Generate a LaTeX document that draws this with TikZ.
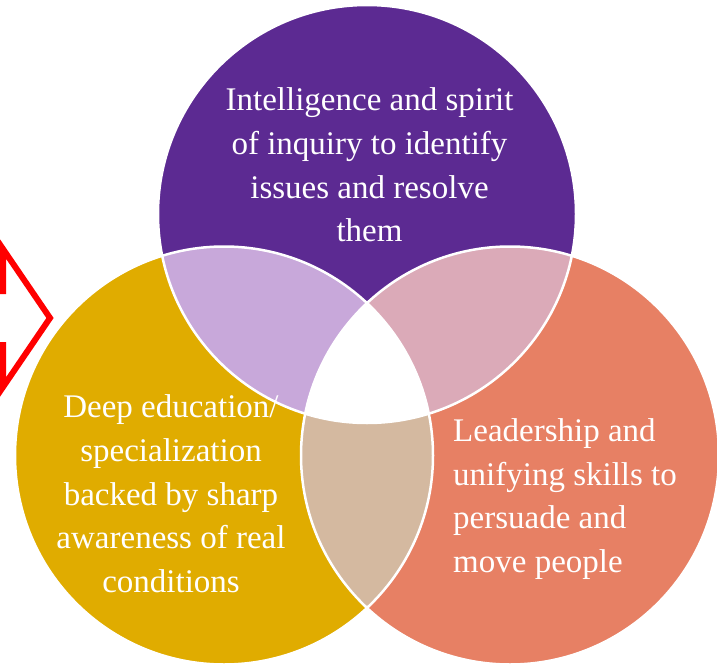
\documentclass[tikz,border=0pt]{standalone}
\usepackage{fontspec}
\setmainfont{Liberation Serif}
\usepackage{xcolor}
\definecolor{venn-purple}{HTML}{5C2A92}
\definecolor{venn-gold}{HTML}{E0AC00}
\definecolor{venn-coral}{HTML}{E78064}
\definecolor{venn-lilac}{HTML}{C8A8DA}
\definecolor{venn-rose}{HTML}{DBAAB8}
\definecolor{venn-tan}{HTML}{D4B9A0}
\tikzset{
    venn-edge/.style = {draw=white, line width=2.5pt},
    venn-label/.style = {text=white, inner sep=0pt, font=\fontsize{33}{43.7}\selectfont},
    hint-arrow/.style = {draw=red, line width=6pt, miter limit=10},
}

\begin{document}
\begin{tikzpicture}[x=1pt, y=-1pt]
\useasboundingbox (0,0) rectangle (717,666);
\clip (0,0) rectangle (717,666);
\coordinate (inquiry-c) at (367,214);
\coordinate (education-c) at (224,455.5);
\coordinate (leadership-c) at (510,455.5);
% the three circles
\fill[venn-purple] (inquiry-c) circle[radius=209];
\fill[venn-gold] (education-c) circle[radius=209];
\fill[venn-coral] (leadership-c) circle[radius=209];
% overlaps
\begin{scope}
    \clip (inquiry-c) circle[radius=209];
    \fill[venn-lilac] (education-c) circle[radius=209];
    \fill[venn-rose] (leadership-c) circle[radius=209];
\end{scope}
\begin{scope}
    \clip (education-c) circle[radius=209];
    \fill[venn-tan] (leadership-c) circle[radius=209];
    \clip (leadership-c) circle[radius=209];
    \fill[white] (inquiry-c) circle[radius=209];
\end{scope}
\foreach \c in {inquiry-c, education-c, leadership-c}
    \draw[venn-edge] (\c) circle[radius=209];
% labels
\node[venn-label, align=center] (inquiry) at (369.5,165) {Intelligence and spirit\\of inquiry to identify\\issues and resolve\\them};
\node[venn-label, align=center] (education) at (171,494) {Deep education/\\specialization\\backed by sharp\\awareness of real\\conditions};
\node[venn-label, align=left, anchor=west] (leadership) at (453,499) {Leadership and\\unifying skills to\\persuade and\\move people};
% arrow cut off at the left edge
\draw[hint-arrow] (-10,291) -- (3,291) -- (3,249) -- (50,318) -- (3,387) -- (3,345) -- (-10,345);
\end{tikzpicture}
\end{document}
